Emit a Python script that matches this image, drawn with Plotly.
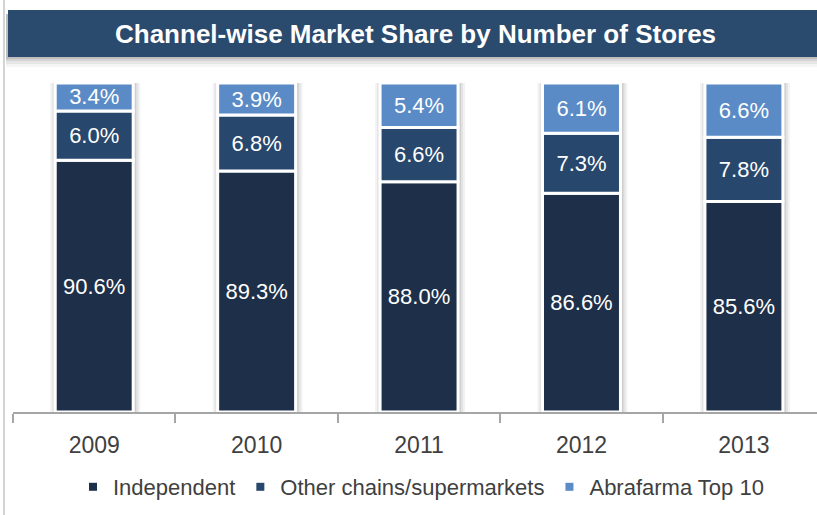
import numpy as np
import plotly.graph_objects as go

# Data
years = ["2009", "2010", "2011", "2012", "2013"]
independent = [90.6, 89.3, 88.0, 86.6, 85.6]
other_chains = [6.0, 6.8, 6.6, 7.3, 7.8]
abrafarma_top10 = [3.4, 3.9, 5.4, 6.1, 6.6]
series_names = ["Independent", "Other chains/supermarkets", "Abrafarma Top 10"]
title_text = "Channel-wise Market Share by Number of Stores"

AXIS_MIN = 60  # truncated value axis
colors = ["#1e3049", "#28476c", "#5a8bc6"]
FONT = "Liberation Sans, Arial, sans-serif"
W, H = 817, 515
ML, MR, MT, MB = 13, 0, 83, 103
BAR_W = 0.48

ind = np.array(independent)
oth = np.array(other_chains)
abr = np.array(abrafarma_top10)

bases = [np.full(len(years), AXIS_MIN), ind, ind + oth]
lengths = [ind - AXIS_MIN, oth, abr]
values = [ind, oth, abr]

fig = go.Figure()

# soft shadow behind each bar column
px_unit = 1 / 162.5
shapes = []
for i in range(len(years)):
    for k, op in [(7, 0.05), (5, 0.06), (3, 0.09)]:
        shapes.append(dict(
            type="rect", xref="x", yref="y", layer="below",
            x0=i - BAR_W / 2 - (k - 2) * px_unit, x1=i + BAR_W / 2 + k * px_unit,
            y0=AXIS_MIN, y1=100.6,
            fillcolor=f"rgba(0,0,0,{op})", line=dict(width=0)))

for name, col, b, ln, v in zip(series_names, colors, bases, lengths, values):
    fig.add_trace(go.Bar(
        x=years, y=ln, base=b, name=name, width=BAR_W,
        marker=dict(color=col, line=dict(color="white", width=3)),
        text=[f"{x:.1f}%" for x in v], textposition="inside",
        insidetextanchor="middle", constraintext="none",
        textfont=dict(family=FONT, size=22, color="white"),
        showlegend=False, hoverinfo="skip"))

# legend entries with small square keys
for name, col in zip(series_names, colors):
    fig.add_trace(go.Scatter(
        x=[None], y=[None], mode="markers", name=name,
        marker=dict(symbol="square", size=8, color=col)))

def px_x(p):
    return (p - ML) / (W - ML - MR)

def px_y(p):
    return (H - MB - p) / (H - MT - MB)

# title banner with shadow
for d, op in [(10, 0.04), (7, 0.06), (4, 0.08), (2, 0.1)]:
    shapes.append(dict(type="rect", xref="paper", yref="paper", layer="above",
                       x0=px_x(6), x1=px_x(830), y0=px_y(57 + d), y1=px_y(14),
                       fillcolor=f"rgba(0,0,0,{op})", line=dict(width=0)))
shapes.append(dict(type="rect", xref="paper", yref="paper", layer="above",
                   x0=px_x(8), x1=px_x(830), y0=px_y(57), y1=px_y(10),
                   fillcolor="#2a4a6e", line=dict(width=0)))
# panel edge on the left
shapes.append(dict(type="line", xref="paper", yref="paper", layer="above",
                   x0=px_x(4), x1=px_x(4), y0=px_y(0), y1=px_y(515),
                   line=dict(color="#d4d4d4", width=2)))

fig.update_layout(
    width=W, height=H,
    margin=dict(l=ML, r=MR, t=MT, b=MB),
    paper_bgcolor="white", plot_bgcolor="white",
    barmode="overlay",
    shapes=shapes,
    annotations=[dict(
        text=f"<b>{title_text}</b>", xref="paper", yref="paper",
        x=px_x(415), y=px_y(34), xanchor="center", yanchor="middle",
        showarrow=False, font=dict(family=FONT, size=26, color="white"))],
    xaxis=dict(
        type="category", range=[-0.5, 4.45],
        showline=True, linecolor="#a6a6a6", linewidth=2,
        ticks="outside", ticklen=9, tickcolor="#a6a6a6", tickwidth=2,
        tickson="boundaries", showgrid=False, zeroline=False,
        tickfont=dict(family=FONT, size=23, color="#404040"),
        ticklabelstandoff=11, fixedrange=True),
    yaxis=dict(range=[AXIS_MIN, 100], visible=False, fixedrange=True),
    legend=dict(
        orientation="h", x=px_x(421), y=px_y(487), xanchor="center",
        yanchor="middle", font=dict(family=FONT, size=22, color="#404040"),
        bgcolor="rgba(0,0,0,0)", itemwidth=30, tracegroupgap=0),
    showlegend=True,
)

fig.write_html("out.html")
